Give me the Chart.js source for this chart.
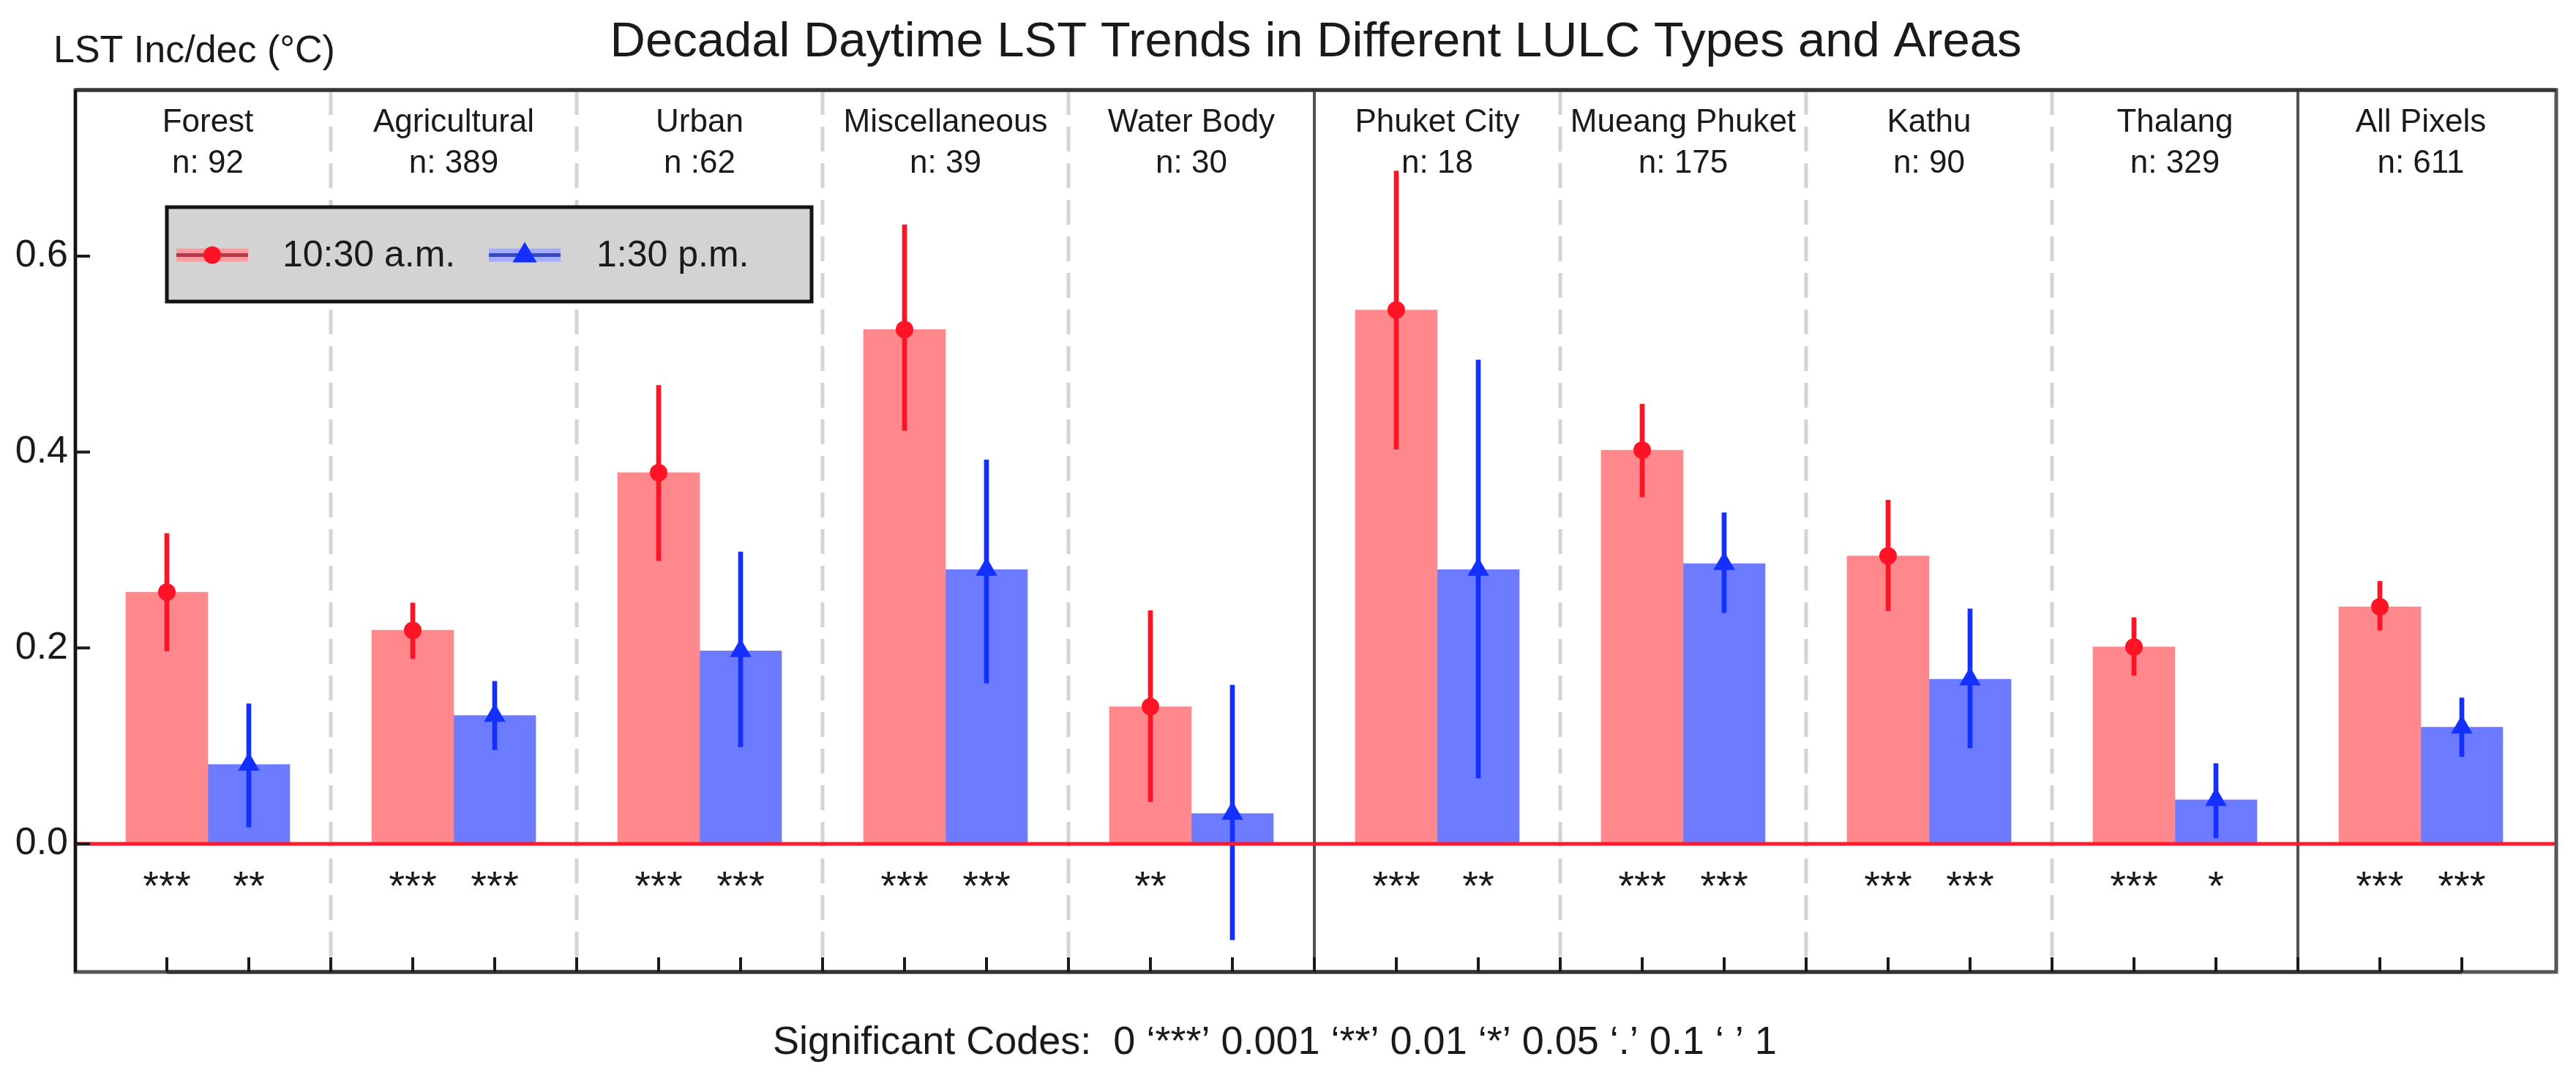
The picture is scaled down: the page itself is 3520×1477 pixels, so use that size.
<!DOCTYPE html>
<html lang="en">
<head>
  <meta charset="UTF-8">
  <title>Decadal Daytime LST Trends</title>
  <script src="https://cdn.jsdelivr.net/npm/chart.js@4"></script>
  <style>
    html, body { margin: 0; padding: 0; background: #fff; }
    #wrap { width: 3520px; height: 1477px; }
  </style>
</head>
<body>
  <div id="wrap"><canvas id="lstChart"></canvas></div>

  <script>
    // LULC types and areas (one group each), with pixel counts
    const groups = ['Forest', 'Agricultural', 'Urban', 'Miscellaneous', 'Water Body',
                    'Phuket City', 'Mueang Phuket', 'Kathu', 'Thalang', 'All Pixels'];
    const counts = ['n: 92', 'n: 389', 'n :62', 'n: 39', 'n: 30',
                    'n: 18', 'n: 175', 'n: 90', 'n: 329', 'n: 611'];
    // groups followed by a solid separator instead of a dashed one
    const solidAfter = ['Water Body', 'Thalang'];

    const seriesNames = ['10:30 a.m.', '1:30 p.m.'];

    // 10:30 a.m. trend and its interval
    const amTrend = [0.257, 0.218, 0.379, 0.525, 0.140, 0.545, 0.402, 0.294, 0.201, 0.242];
    const amLow   = [0.197, 0.189, 0.289, 0.422, 0.043, 0.403, 0.354, 0.238, 0.172, 0.218];
    const amHigh  = [0.317, 0.246, 0.468, 0.632, 0.238, 0.687, 0.449, 0.351, 0.231, 0.268];
    const amSig   = ['***', '***', '***', '***', '**', '***', '***', '***', '***', '***'];

    // 1:30 p.m. trend and its interval
    const pmTrend = [0.081, 0.131, 0.197, 0.280, 0.031, 0.280, 0.286, 0.168, 0.045, 0.119];
    const pmLow   = [0.017, 0.096, 0.099, 0.164, -0.098, 0.067, 0.236, 0.098, 0.006, 0.089];
    const pmHigh  = [0.143, 0.166, 0.298, 0.392, 0.162, 0.494, 0.338, 0.240, 0.082, 0.149];
    const pmSig   = ['**', '***', '***', '***', '', '**', '***', '***', '*', '***'];

    const yTicks = [0.0, 0.2, 0.4, 0.6];

    const titleText = 'Decadal Daytime LST Trends in Different LULC Types and Areas';
    const yLabel = 'LST Inc/dec (\u00B0C)';
    const noteText = 'Significant Codes:  0 \u2018***\u2019 0.001 \u2018**\u2019 0.01 \u2018*\u2019 0.05 \u2018.\u2019 0.1 \u2018 \u2019 1';

    const FONT = '"Liberation Sans", Arial, Helvetica, sans-serif';
    const RED_BAR = '#ff888d', BLUE_BAR = '#6c7bff';
    const RED = '#ff1426', BLUE = '#1430ff';

    // each group uses three slots on the x axis: a.m. bar, p.m. bar, separator
    const amX = i => i * 3;
    const pmX = i => i * 3 + 1;

    const toPoints = (arr, xf) => arr.map((v, i) => ({ x: xf(i), y: v }));
    const toRanges = (lo, hi, xf) => lo.map((v, i) => ({ x: xf(i), y: [v, hi[i]] }));

    function drawTriangle(ctx, x, y, r) {
      ctx.beginPath();
      ctx.moveTo(x, y - r);
      ctx.lineTo(x + r * 0.92, y + r * 0.55);
      ctx.lineTo(x - r * 0.92, y + r * 0.55);
      ctx.closePath();
      ctx.fill();
    }

    const decor = {
      id: 'decor',
      beforeDatasetsDraw(chart) {
        const { ctx, chartArea: a, scales: { x } } = chart;
        ctx.save();
        groups.slice(0, -1).forEach((g, i) => {
          const px = x.getPixelForValue(i * 3 + 2);
          const solid = solidAfter.includes(g);
          ctx.beginPath();
          ctx.setLineDash(solid ? [] : [34, 16]);
          ctx.strokeStyle = solid ? '#505050' : '#d4d4d4';
          ctx.lineWidth = solid ? 4 : 5;
          ctx.moveTo(px, a.top);
          ctx.lineTo(px, a.bottom);
          ctx.stroke();
        });
        ctx.restore();
      },
      afterDatasetsDraw(chart) {
        const { ctx, chartArea: a, scales: { x, y } } = chart;
        ctx.save();

        // zero line
        const y0 = y.getPixelForValue(0);
        ctx.strokeStyle = '#ff1a2a';
        ctx.lineWidth = 5;
        ctx.beginPath();
        ctx.moveTo(a.left, y0);
        ctx.lineTo(a.right, y0);
        ctx.stroke();

        // box
        ctx.strokeStyle = '#555';
        ctx.lineWidth = 5;
        ctx.strokeRect(a.left, a.top, a.right - a.left, a.bottom - a.top);
        ctx.strokeStyle = '#333';
        ctx.beginPath();
        ctx.moveTo(a.left, a.top);
        ctx.lineTo(a.right, a.top);
        ctx.stroke();
        ctx.strokeStyle = '#111';
        ctx.lineWidth = 4;
        ctx.beginPath();
        ctx.moveTo(a.left, a.top);
        ctx.lineTo(a.left, a.bottom);
        ctx.stroke();
        ctx.strokeStyle = '#333';
        ctx.lineWidth = 5;
        ctx.beginPath();
        ctx.moveTo(x.getPixelForValue(amX(0)), a.bottom);
        ctx.lineTo(x.getPixelForValue(pmX(groups.length - 1)), a.bottom);
        ctx.stroke();

        // inward ticks
        ctx.strokeStyle = '#1a1a1a';
        ctx.lineWidth = 4;
        for (let k = amX(0); k <= pmX(groups.length - 1); k++) {
          const px = x.getPixelForValue(k);
          ctx.beginPath();
          ctx.moveTo(px, a.bottom);
          ctx.lineTo(px, a.bottom - 20);
          ctx.stroke();
        }
        yTicks.forEach(v => {
          const py = y.getPixelForValue(v);
          ctx.beginPath();
          ctx.moveTo(a.left, py);
          ctx.lineTo(a.left + 20, py);
          ctx.stroke();
        });

        // group labels
        ctx.fillStyle = '#1a1a1a';
        ctx.textAlign = 'center';
        ctx.textBaseline = 'alphabetic';
        ctx.font = '44px ' + FONT;
        groups.forEach((g, i) => {
          const cx = x.getPixelForValue(i * 3 + 0.5);
          ctx.fillText(g, cx, a.top + 57);
          ctx.fillText(counts[i], cx, a.top + 113);
        });

        // significance stars
        ctx.font = '56px ' + FONT;
        const starY = y.getPixelForValue(-0.034) + 0.55 * 56;
        groups.forEach((g, i) => {
          ctx.fillText(amSig[i], x.getPixelForValue(amX(i)), starY);
          ctx.fillText(pmSig[i], x.getPixelForValue(pmX(i)), starY);
        });

        // legend box
        const lx = a.left + 125, ly = a.top + 160, lw = 881, lh = 129;
        const cy = ly + lh / 2 + 1;
        ctx.fillStyle = '#d3d3d3';
        ctx.fillRect(lx, ly, lw, lh);
        ctx.strokeStyle = '#141414';
        ctx.lineWidth = 5;
        ctx.strokeRect(lx, ly, lw, lh);

        const keys = [
          { x: lx + 13, band: '#ff9ca2', line: '#b23a48', dot: RED, shape: 'circle', tx: lx + 158 },
          { x: lx + 440, band: '#a4acff', line: '#3a48b8', dot: BLUE, shape: 'triangle', tx: lx + 587 }
        ];
        keys.forEach((k, i) => {
          ctx.fillStyle = k.band;
          ctx.fillRect(k.x, cy - 9, 98, 18);
          ctx.strokeStyle = k.line;
          ctx.lineWidth = 5;
          ctx.beginPath();
          ctx.moveTo(k.x, cy);
          ctx.lineTo(k.x + 98, cy);
          ctx.stroke();
          ctx.fillStyle = k.dot;
          if (k.shape === 'circle') {
            ctx.beginPath();
            ctx.arc(k.x + 49, cy, 12, 0, Math.PI * 2);
            ctx.fill();
          } else {
            drawTriangle(ctx, k.x + 49, cy, 18);
          }
          ctx.fillStyle = '#1a1a1a';
          ctx.font = '50px ' + FONT;
          ctx.textAlign = 'left';
          ctx.textBaseline = 'middle';
          ctx.fillText(seriesNames[i], k.tx, cy + 2);
        });

        ctx.restore();
      },
      afterDraw(chart) {
        const { ctx, chartArea: a } = chart;
        ctx.save();
        ctx.fillStyle = '#1a1a1a';
        ctx.textBaseline = 'alphabetic';

        ctx.font = '67px ' + FONT;
        ctx.textAlign = 'center';
        ctx.fillText(titleText, (a.left + a.right) / 2, 77);

        ctx.font = '52px ' + FONT;
        ctx.textAlign = 'left';
        ctx.fillText(yLabel, 73, 85);

        ctx.font = '54px ' + FONT;
        ctx.textAlign = 'center';
        ctx.fillText(noteText, 1742, 1440);
        ctx.restore();
      }
    };

    const ctx = document.getElementById('lstChart').getContext('2d');
    const lstChart = new Chart(ctx, {
      data: {
        datasets: [
          {
            type: 'bar', label: seriesNames[0], data: toPoints(amTrend, amX),
            backgroundColor: RED_BAR, grouped: false, order: 3,
            barPercentage: 1, categoryPercentage: 1
          },
          {
            type: 'bar', label: seriesNames[1], data: toPoints(pmTrend, pmX),
            backgroundColor: BLUE_BAR, grouped: false, order: 3,
            barPercentage: 1, categoryPercentage: 1
          },
          {
            type: 'bar', label: seriesNames[0] + ' interval', data: toRanges(amLow, amHigh, amX),
            backgroundColor: RED, grouped: false, order: 2, barThickness: 6
          },
          {
            type: 'bar', label: seriesNames[1] + ' interval', data: toRanges(pmLow, pmHigh, pmX),
            backgroundColor: BLUE, grouped: false, order: 2, barThickness: 6
          },
          {
            type: 'line', label: seriesNames[0] + ' trend', data: toPoints(amTrend, amX),
            showLine: false, pointStyle: 'circle', pointRadius: 12,
            pointBackgroundColor: RED, pointBorderWidth: 0, order: 1
          },
          {
            type: 'line', label: seriesNames[1] + ' trend', data: toPoints(pmTrend, pmX),
            showLine: false, pointStyle: 'triangle', pointRadius: 17,
            pointBackgroundColor: BLUE, pointBorderWidth: 0, order: 1
          }
        ]
      },
      options: {
        responsive: true,
        maintainAspectRatio: false,
        devicePixelRatio: 1,
        animation: false,
        layout: { padding: { left: 0, right: 27, top: 123, bottom: 149 } },
        plugins: {
          legend: { display: false },
          tooltip: { enabled: false },
          title: { display: false }
        },
        scales: {
          x: {
            type: 'linear',
            min: -1.116,
            max: 29.152,
            offset: false,
            grace: 0,
            display: false,
            ticks: { maxTicksLimit: 4 }
          },
          y: {
            min: -0.1308,
            max: 0.7696,
            grid: { display: false, drawTicks: false },
            border: { display: false },
            afterFit(scale) { scale.width = 103; },
            afterBuildTicks(scale) { scale.ticks = yTicks.map(v => ({ value: v })); },
            ticks: {
              padding: 10,
              color: '#1a1a1a',
              font: { family: FONT, size: 52 },
              callback: v => v.toFixed(1)
            }
          }
        }
      },
      plugins: [decor]
    });
  </script>
</body>
</html>
